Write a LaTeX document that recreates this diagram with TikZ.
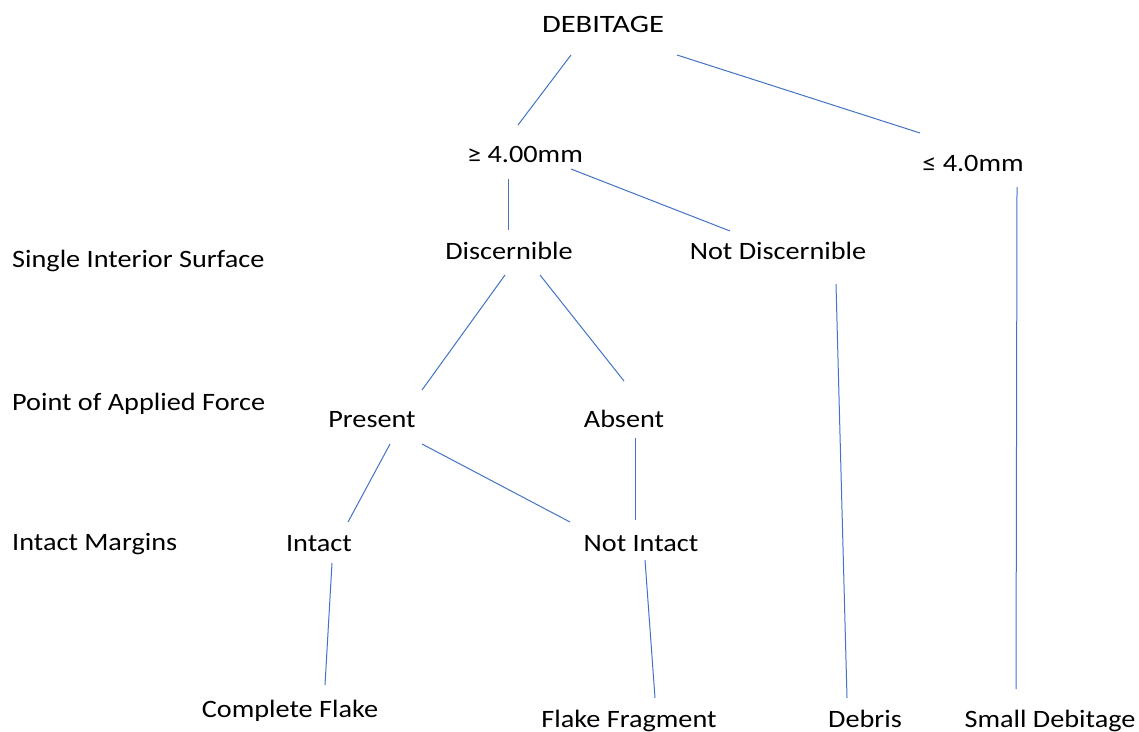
\documentclass[tikz,border=0pt]{standalone}
\usepackage{fontspec}
\usepackage{graphicx}
\setmainfont{Carlito}
\usetikzlibrary{calc}
\newcommand{\sx}[1]{\scalebox{1.13}[1]{#1}}
\newcommand{\sxw}[1]{\scalebox{1.22}[1]{#1}}
\definecolor{linkblue}{HTML}{4472C4}
\tikzset{
  lbl/.style={anchor=base, inner sep=0pt, font=\fontsize{25}{29}\selectfont},
  side/.style={lbl, anchor=base west},
  link/.style={draw=linkblue, line width=1pt}
}
\begin{document}
\begin{tikzpicture}[x=1pt,y=-1pt]
\useasboundingbox[fill=white] (0,0) rectangle (1139,731);
% nodes
\node[lbl] (deb)    at (603,32)  {\sxw{DEBITAGE}};
\node[lbl] (ge)     at (525,162) {\sx{≥ 4.00mm}};
\node[lbl] (le)     at (973,171) {\sx{≤ 4.0mm}};
\node[lbl] (disc)   at (509,259) {\sx{Discernible}};
\node[lbl] (nd)     at (778,259) {\sx{Not Discernible}};
\node[lbl] (pres)   at (372,427) {\sx{Present}};
\node[lbl] (abs)    at (624,427) {\sx{Absent}};
\node[lbl] (intact) at (319,551) {\sx{Intact}};
\node[lbl] (ni)     at (641,551) {\sx{Not Intact}};
\node[lbl] (cf)     at (290,717) {\sx{Complete Flake}};
\node[lbl] (ff)     at (629,727) {\sx{Flake Fragment}};
\node[lbl] (debris) at (865,727) {\sx{Debris}};
\node[lbl] (sd)     at (1050,727) {\sx{Small Debitage}};
% row labels
\node[side] (sis) at (12,267) {\sx{Single Interior Surface}};
\node[side] (paf) at (12,410) {\sx{Point of Applied Force}};
\node[side] (im)  at (12,550) {\sx{Intact Margins}};
% connectors
\draw[link] ($(deb.base)+(-32,23)$) -- ($(ge.base)+(-7,-37)$);
\draw[link] ($(deb.base)+(74,23)$) -- ($(le.base)+(-53,-38)$);
\draw[link] ($(ge.base)+(-17,17)$) -- ($(disc.base)+(-1,-29)$);
\draw[link] ($(ge.base)+(46,7)$) -- ($(nd.base)+(-48,-28)$);
\draw[link] ($(le.base)+(44,16)$) -- ($(sd.base)+(-34,-38)$);
\draw[link] ($(disc.base)+(-4,16)$) -- ($(pres.base)+(50,-37)$);
\draw[link] ($(disc.base)+(31,16)$) -- ($(abs.base)+(0,-46)$);
\draw[link] ($(nd.base)+(58,25)$) -- ($(debris.base)+(-18,-29)$);
\draw[link] ($(pres.base)+(18,17)$) -- ($(intact.base)+(29,-29)$);
\draw[link] ($(pres.base)+(50,17)$) -- ($(ni.base)+(-71,-29)$);
\draw[link] ($(abs.base)+(11,11)$) -- ($(ni.base)+(-6,-31)$);
\draw[link] ($(intact.base)+(13,12)$) -- ($(cf.base)+(35,-32)$);
\draw[link] ($(ni.base)+(4,9)$) -- ($(ff.base)+(26,-29)$);
\end{tikzpicture}
\end{document}
